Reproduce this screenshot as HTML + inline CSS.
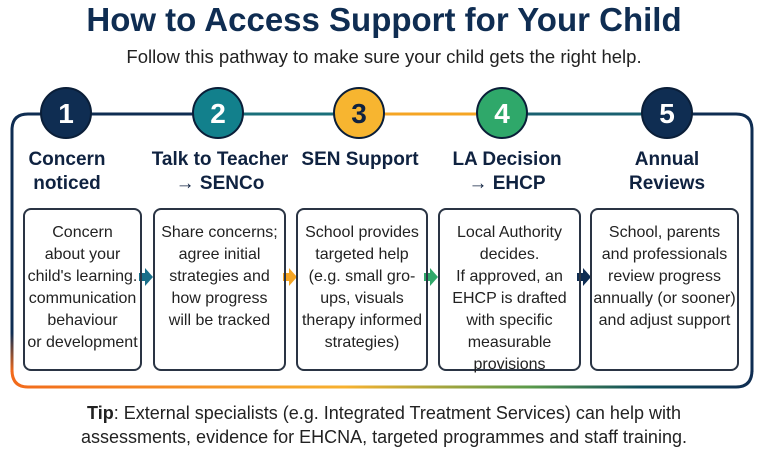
<!DOCTYPE html>
<html><head><style>
body{margin:0;width:768px;height:456px;background:#fff;font-family:"Liberation Sans",sans-serif;color:#1a2a44;position:relative;overflow:hidden}
.a{position:absolute}
h1{position:absolute;top:0;left:0;width:768px;margin:0;text-align:center;font-size:33px;line-height:40px;color:#0f2d52;font-weight:bold}
.sub{top:46px;left:0;width:768px;text-align:center;font-size:18.5px;color:#222}
.t{font-weight:bold;font-size:19px;text-align:center;line-height:24px;color:#0f2240;white-space:nowrap}
.box{border:2px solid #2a3444;border-radius:8px;top:208px;height:163px;box-sizing:border-box;text-align:center;font-size:16px;line-height:22px;padding-top:12px;color:#222;white-space:nowrap;display:flex;flex-direction:column;align-items:center}
.tip{left:0;width:768px;text-align:center;top:401px;font-size:18px;line-height:24px;color:#222}
</style></head><body>
<h1>How to Access Support for Your Child</h1>
<div class="a sub">Follow this pathway to make sure your child gets the right help.</div>
<svg class="a" style="left:0;top:0" width="768" height="456">
<defs><linearGradient id="g" x1="0" x2="1"><stop offset="0" stop-color="#f26a1b"/><stop offset=".45" stop-color="#f7b12f"/><stop offset=".7" stop-color="#5a9a4a"/><stop offset=".85" stop-color="#0f4d5c"/><stop offset="1" stop-color="#0f2d52"/></linearGradient>
<linearGradient id="lv" x1="0" y1="0" x2="0" y2="1"><stop offset=".85" stop-color="#0f2d52"/><stop offset="1" stop-color="#f26a1b"/></linearGradient></defs>
<path d="M12 372 V130 Q12 114 28 114 H66" stroke="url(#lv)" stroke-width="3" fill="none"/>
<path d="M66 114 H218" stroke="#0f2d52" stroke-width="3"/>
<path d="M218 114 H359" stroke="#1a6f7a" stroke-width="3"/>
<path d="M359 114 H502" stroke="#f5a524" stroke-width="3"/>
<path d="M502 114 H667" stroke="#1a6070" stroke-width="3"/>
<path d="M667 114 H736 Q752 114 752 130 V372" stroke="#0f2d52" stroke-width="3" fill="none"/>
<path d="M12 370 Q12 387 28 387 H736 Q752 387 752 370" stroke="url(#g)" stroke-width="3" fill="none"/>
<g font-family="Liberation Sans" font-weight="bold" font-size="28" text-anchor="middle" fill="#fff">
<circle cx="66" cy="113" r="25" fill="#0f2d52" stroke="#0a1e38" stroke-width="2"/><text x="66" y="123">1</text>
<circle cx="218" cy="113" r="25" fill="#12808c" stroke="#0a1e38" stroke-width="2"/><text x="218" y="123">2</text>
<circle cx="359" cy="113" r="25" fill="#f7b530" stroke="#0a1e38" stroke-width="2"/><text x="359" y="123" fill="#0f2240">3</text>
<circle cx="502" cy="113" r="25" fill="#2fa86a" stroke="#0a1e38" stroke-width="2"/><text x="502" y="123">4</text>
<circle cx="667" cy="113" r="25" fill="#0f2d52" stroke="#0a1e38" stroke-width="2"/><text x="667" y="123">5</text>
</g>
<path d="M139 273 h6 v-5 l8 9 l-8 9 v-5 h-6z" fill="#1a6f8a"/>
<path d="M283 273 h6 v-5 l8 9 l-8 9 v-5 h-6z" fill="#f5a524"/>
<path d="M424 273 h6 v-5 l8 9 l-8 9 v-5 h-6z" fill="#2fa86a"/>
<path d="M577 273 h6 v-5 l8 9 l-8 9 v-5 h-6z" fill="#0f2d52"/>
</svg>
<div class="a t" style="left:8px;width:118px;top:148px">Concern<br>noticed</div>
<div class="a t" style="left:140px;width:160px;top:148px">Talk to Teacher<br>→ SENCo</div>
<div class="a t" style="left:290px;width:140px;top:148px">SEN Support</div>
<div class="a t" style="left:432px;width:150px;top:148px">LA Decision<br>→ EHCP</div>
<div class="a t" style="left:592px;width:150px;top:148px">Annual<br>Reviews</div>
<div class="a box" style="left:23px;width:119px">Concern<br>about your<br>child's learning.<br>communication<br>behaviour<br>or development</div>
<div class="a box" style="left:153px;width:133px">Share concerns;<br>agree initial<br>strategies and<br>how progress<br>will be tracked</div>
<div class="a box" style="left:296px;width:132px">School provides<br>targeted help<br>(e.g. small gro-<br>ups, visuals<br>therapy informed<br>strategies)</div>
<div class="a box" style="left:438px;width:143px">Local Authority<br>decides.<br>If approved, an<br>EHCP is drafted<br>with specific<br>measurable<br>provisions</div>
<div class="a box" style="left:590px;width:149px">School, parents<br>and professionals<br>review progress<br>annually (or sooner)<br>and adjust support</div>
<div class="a tip"><b>Tip</b>: External specialists (e.g. Integrated Treatment Services) can help with<br>assessments, evidence for EHCNA, targeted programmes and staff training.</div>
</body></html>
